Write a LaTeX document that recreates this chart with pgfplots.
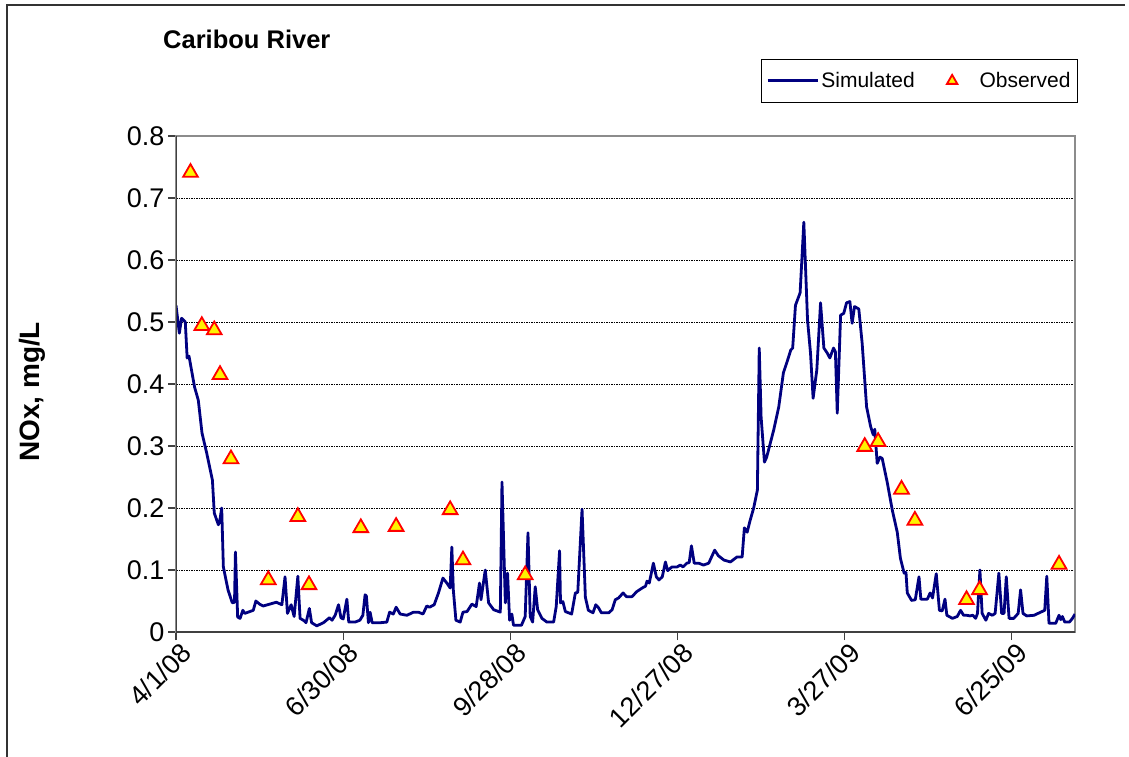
\documentclass[border=0pt]{standalone}
\usepackage{pgfplots}
\pgfplotsset{compat=1.18}
\usepackage{fontspec}
\setmainfont{Liberation Sans}

\definecolor{simblue}{RGB}{0,0,128}

\pgfplotsset{
  simleg/.style={legend image code/.code={\draw[##1] (0bp,0bp) -- (50bp,0bp);}},
  obsleg/.style={legend image code/.code={\path (0bp,0bp) (46bp,0bp);
    \draw[##1, mark size=6bp] plot coordinates {(21bp,0bp)};}},
}

\begin{document}
\begin{tikzpicture}
\path[use as bounding box] (0,0) rectangle (1129bp,-757bp);
\draw[line width=1.5bp, black!80] (7bp,-757bp) -- (7bp,-5bp) -- (1125bp,-5bp);
\node[anchor=base west, font=\fontsize{25.5bp}{30bp}\selectfont\bfseries, inner sep=0pt]
  at (163bp,-48bp) {Caribou River};
\begin{axis}[
  at={(176bp,-632bp)}, anchor=south west,
  scale only axis, width=899bp, height=496bp,
  xmin=0, xmax=484, ymin=0, ymax=0.8,
  xtick={0,90,180,270,360,450},
  xticklabels={4/1/08,6/30/08,9/28/08,12/27/08,3/27/09,6/25/09},
  ytick={0,0.1,0.2,0.3,0.4,0.5,0.6,0.7,0.8},
  /pgf/number format/assume math mode=true,
  tick label style={font=\fontsize{27bp}{32bp}\selectfont},
  xticklabel style={rotate=45, anchor=north east, inner sep=2bp, xshift=4bp, yshift=-1bp},
  tick align=outside, xtick pos=bottom, ytick pos=left,
  major tick length=8bp,
  tick style={black!75, line width=1.2bp},
  axis line style={draw=black!45, line width=2.5bp},
  ymajorgrids,
  major grid style={black, line width=0.8bp, dash pattern=on 1.5bp off 1bp},
  ylabel={NOx, mg/L},
  ylabel style={at={(axis description cs:-0.160,0.484)}, anchor=center,
    font=\fontsize{28bp}{32bp}\selectfont\bfseries},
  legend columns=2,
  legend style={at={(rel axis cs:1.0033,1.155)}, anchor=north east,
    draw=black, line width=0.8bp, font=\fontsize{21bp}{25bp}\selectfont,
    inner xsep=5bp, inner ysep=11bp,
    /tikz/every even column/.append style={column sep=14bp}},
]
\addplot[simblue, line width=2.8bp, line join=round, simleg]
  coordinates {
(0,0.527) (1.8,0.482) (3,0.506) (5,0.500) (6,0.442) (7,0.445) (10,0.395)
(12,0.374) (14,0.321) (16.5,0.289) (19.6,0.245) (20.6,0.192) (22.8,0.173)
(23.5,0.178) (24.6,0.200) (25.5,0.105) (28,0.068) (30.3,0.047) (31.5,0.048)
(32,0.129) (33.2,0.024) (34.5,0.022) (36,0.035) (37,0.030) (41.6,0.035)
(43,0.050) (45,0.045) (47,0.042) (54,0.048) (57,0.044) (58.7,0.089)
(60,0.030) (62,0.044) (63.6,0.025) (65.6,0.090) (66.8,0.022) (68.6,0.019)
(70,0.015) (71.8,0.038) (73,0.015) (75.8,0.010) (79.4,0.015) (82.6,0.023)
(84,0.019) (85.7,0.027) (87.5,0.044) (88.8,0.023) (90,0.021) (92,0.053)
(93,0.016) (96.4,0.016) (99,0.019) (100.6,0.027) (101.8,0.060) (102.5,0.058)
(103.6,0.015) (104.5,0.032) (105.6,0.015) (110,0.015) (113.5,0.016)
(115,0.032) (117,0.029) (118.5,0.040) (120.7,0.029) (124.3,0.027)
(127.9,0.032) (130.5,0.032) (133,0.029) (135,0.042) (136.5,0.040)
(139,0.044) (141.3,0.063) (143.7,0.087) (145.8,0.079) (147.6,0.071)
(148.5,0.137) (149.3,0.068) (150.7,0.019) (153,0.016) (154.5,0.032)
(156.7,0.033) (159.3,0.045) (161.6,0.041) (163.4,0.079) (164.2,0.052)
(166.5,0.100) (168.3,0.047) (171,0.036) (174.6,0.032) (175.5,0.242)
(177.3,0.047) (178.5,0.095) (179.6,0.019) (180.8,0.029) (181.7,0.011)
(186,0.011) (188,0.025) (189.5,0.160) (190.7,0.025) (192,0.016)
(193.4,0.073) (194.7,0.036) (197,0.022) (199.7,0.016) (203.3,0.016)
(204.7,0.041) (206.5,0.131) (207,0.047) (208.3,0.049) (209.6,0.033)
(213,0.029) (215,0.063) (216.3,0.064) (218.6,0.198) (220.4,0.056)
(222,0.035) (224.5,0.031) (226,0.044) (227.5,0.039) (229,0.031)
(233,0.031) (234.8,0.036) (236.5,0.052) (238.3,0.055) (240.7,0.063)
(242.5,0.057) (245.5,0.057) (248,0.065) (251,0.071) (252.8,0.074)
(253.6,0.082) (254.8,0.079) (257,0.111) (258.6,0.089) (260,0.084)
(261.8,0.089) (263.5,0.113) (264.7,0.099) (267,0.105) (269.8,0.105)
(271.5,0.108) (273,0.105) (275,0.111) (276.3,0.112) (277.5,0.139)
(279,0.111) (281.4,0.111) (284,0.108) (286.8,0.111) (290,0.132)
(292,0.123) (295,0.116) (298.5,0.113) (302,0.121) (304.8,0.121)
(306,0.168) (307.5,0.161) (309,0.179) (311,0.200) (313,0.229)
(314,0.458) (315,0.347) (316.8,0.274) (318,0.282) (321.8,0.326)
(324.5,0.363) (327,0.418) (329,0.436) (331,0.455) (332,0.458)
(333.5,0.527) (336,0.547) (338,0.661) (340,0.503) (341.6,0.450)
(343,0.377) (345,0.423) (347,0.531) (348.8,0.458) (350.6,0.450)
(352,0.442) (354,0.458) (355,0.452) (356,0.353) (357.8,0.511)
(359.5,0.514) (361,0.531) (362.8,0.533) (364,0.498) (365.3,0.525)
(367.6,0.521) (369.4,0.466) (371.8,0.363) (374,0.331) (375.4,0.318)
(376.2,0.327) (377.5,0.272) (379,0.282) (380.2,0.280) (383,0.240)
(385.6,0.197) (388.3,0.161) (390,0.119) (392,0.095) (393,0.096)
(393.7,0.063) (396,0.051) (398,0.052) (400,0.089) (401,0.053)
(404.5,0.053) (406,0.063) (407.3,0.055) (409.3,0.094) (411,0.035)
(412.5,0.034) (414,0.053) (415,0.027) (418,0.022) (420.6,0.025)
(422.4,0.035) (424,0.027) (425.6,0.027) (427.5,0.026) (429,0.027)
(430.5,0.022) (431.5,0.030) (432.8,0.100) (434,0.030) (436,0.019)
(437.5,0.030) (439.5,0.027) (441,0.030) (443,0.095) (444.5,0.030)
(445.8,0.030) (447,0.089) (448.5,0.022) (451,0.022) (453.4,0.030)
(454.7,0.068) (456,0.030) (458,0.026) (462,0.027) (465.5,0.032)
(467.7,0.035) (468.8,0.090) (470,0.014) (473.6,0.014) (475.4,0.027)
(476.3,0.020) (477.2,0.025) (478.5,0.016) (481,0.016) (482.6,0.022)
(484,0.029)
  };
\addlegendentry{Simulated}
\addplot[only marks, mark=triangle*, mark size=8.5bp,
  mark options={fill=yellow, draw=red, line width=1.8bp}, obsleg]
  coordinates {
(7.8,0.741) (13.9,0.494) (20.6,0.487) (23.7,0.415) (29.6,0.279)
(49.7,0.084) (65.6,0.186) (71.6,0.076) (99.5,0.168) (118.5,0.170)
(147.6,0.197) (154.5,0.116) (188,0.092) (370.8,0.299) (378,0.307)
(390.6,0.230) (397.8,0.180) (425.6,0.052) (432.6,0.068) (475.4,0.109)
  };
\addlegendentry{Observed}
\draw[black!75, line width=2.2bp] (rel axis cs:0,1) -- (rel axis cs:0,0) -- (rel axis cs:1,0);
\end{axis}
\end{tikzpicture}
\end{document}
